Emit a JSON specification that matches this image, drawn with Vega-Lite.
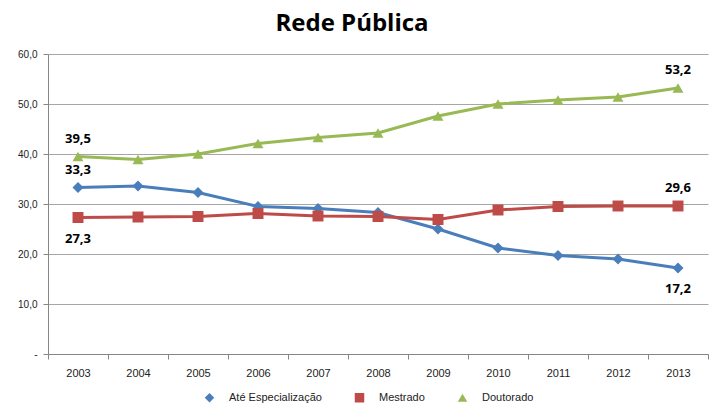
{
  "$schema": "https://vega.github.io/schema/vega-lite/v6.json",
  "width": 660,
  "height": 300,
  "autosize": "none",
  "padding": {"left": 48, "top": 54, "right": 2, "bottom": 59},
  "background": "white",
  "title": {"text": "Rede Pública", "font": "Open Sans", "fontSize": 24, "fontWeight": "bold", "color": "#000000", "dx": -26, "offset": 13},
  "data": {"values": [
    {"year": "2003", "serie": "Até Especialização", "value": 33.3},
    {"year": "2004", "serie": "Até Especialização", "value": 33.6},
    {"year": "2005", "serie": "Até Especialização", "value": 32.3},
    {"year": "2006", "serie": "Até Especialização", "value": 29.5},
    {"year": "2007", "serie": "Até Especialização", "value": 29.1},
    {"year": "2008", "serie": "Até Especialização", "value": 28.3},
    {"year": "2009", "serie": "Até Especialização", "value": 25.0},
    {"year": "2010", "serie": "Até Especialização", "value": 21.2},
    {"year": "2011", "serie": "Até Especialização", "value": 19.7},
    {"year": "2012", "serie": "Até Especialização", "value": 19.0},
    {"year": "2013", "serie": "Até Especialização", "value": 17.2},
    {"year": "2003", "serie": "Mestrado", "value": 27.3},
    {"year": "2004", "serie": "Mestrado", "value": 27.4},
    {"year": "2005", "serie": "Mestrado", "value": 27.5},
    {"year": "2006", "serie": "Mestrado", "value": 28.1},
    {"year": "2007", "serie": "Mestrado", "value": 27.6},
    {"year": "2008", "serie": "Mestrado", "value": 27.5},
    {"year": "2009", "serie": "Mestrado", "value": 26.9},
    {"year": "2010", "serie": "Mestrado", "value": 28.8},
    {"year": "2011", "serie": "Mestrado", "value": 29.5},
    {"year": "2012", "serie": "Mestrado", "value": 29.6},
    {"year": "2013", "serie": "Mestrado", "value": 29.6},
    {"year": "2003", "serie": "Doutorado", "value": 39.5},
    {"year": "2004", "serie": "Doutorado", "value": 38.9},
    {"year": "2005", "serie": "Doutorado", "value": 40.0},
    {"year": "2006", "serie": "Doutorado", "value": 42.1},
    {"year": "2007", "serie": "Doutorado", "value": 43.3},
    {"year": "2008", "serie": "Doutorado", "value": 44.2},
    {"year": "2009", "serie": "Doutorado", "value": 47.6},
    {"year": "2010", "serie": "Doutorado", "value": 50.0},
    {"year": "2011", "serie": "Doutorado", "value": 50.8},
    {"year": "2012", "serie": "Doutorado", "value": 51.4},
    {"year": "2013", "serie": "Doutorado", "value": 53.2}
  ]},
  "encoding": {
    "x": {"field": "year", "type": "ordinal",
      "scale": {"type": "band", "paddingInner": 0, "paddingOuter": 0},
      "axis": {"title": null, "labelAngle": 0, "labelFont": "Liberation Sans", "labelFontSize": 11, "labelColor": "#222222", "domainColor": "#868686", "tickColor": "#868686", "tickBand": "extent", "tickSize": 5, "labelPadding": 8, "grid": false}},
    "y": {"field": "value", "type": "quantitative",
      "scale": {"domain": [0, 60], "nice": false},
      "axis": {"title": null, "values": [0, 10, 20, 30, 40, 50, 60], "labelExpr": "datum.value == 0 ? '-' : replace(format(datum.value, '.1f'), '.', ',')", "labelFont": "Liberation Sans", "labelFontSize": 10, "labelColor": "#222222", "domainColor": "#868686", "tickColor": "#868686", "tickSize": 5, "gridColor": "#a6a6a6", "labelPadding": 6}},
    "color": {"field": "serie", "type": "nominal",
      "scale": {"domain": ["Até Especialização", "Mestrado", "Doutorado"], "range": ["#4a7ebb", "#be4b48", "#98b954"]},
      "legend": {"title": null, "orient": "none", "legendX": 156, "legendY": 338, "direction": "horizontal", "labelFont": "Liberation Sans", "labelFontSize": 11, "labelColor": "#222222", "columnPadding": 32, "labelOffset": 14, "symbolSize": 90, "symbolStrokeWidth": 0}}
  },
  "layer": [
    {
      "mark": {"type": "line", "strokeWidth": 3}
    },
    {
      "mark": {"type": "point", "filled": true, "opacity": 1, "size": 120},
      "encoding": {
        "shape": {"field": "serie", "type": "nominal",
          "scale": {"domain": ["Até Especialização", "Mestrado", "Doutorado"], "range": ["diamond", "square", "triangle-up"]},
          "legend": {"title": null, "orient": "none", "legendX": 156, "legendY": 338, "direction": "horizontal", "labelFont": "Liberation Sans", "labelFontSize": 11, "labelColor": "#222222", "columnPadding": 32, "labelOffset": 14, "symbolSize": 90, "symbolStrokeWidth": 0}}
      }
    },
    {
      "transform": [{"filter": "(datum.serie == 'Doutorado' && (datum.year == '2003' || datum.year == '2013')) || (datum.serie == 'Até Especialização' && datum.year == '2003') || (datum.serie == 'Mestrado' && datum.year == '2013')"}],
      "mark": {"type": "text", "dy": -18, "font": "Open Sans", "fontSize": 13, "fontWeight": "bold", "color": "#000000"},
      "encoding": {"color": {"value": "#000000"}, "text": {"field": "value", "type": "quantitative", "format": ".1f"}}
    },
    {
      "transform": [{"filter": "(datum.serie == 'Mestrado' && datum.year == '2003') || (datum.serie == 'Até Especialização' && datum.year == '2013')"}],
      "mark": {"type": "text", "dy": 21, "font": "Open Sans", "fontSize": 13, "fontWeight": "bold", "color": "#000000"},
      "encoding": {"color": {"value": "#000000"}, "text": {"field": "value", "type": "quantitative", "format": ".1f"}}
    }
  ],
  "config": {
    "view": {"stroke": null},
    "locale": {"number": {"decimal": ",", "thousands": ".", "grouping": [3], "currency": ["R$", ""]}}
  }
}
